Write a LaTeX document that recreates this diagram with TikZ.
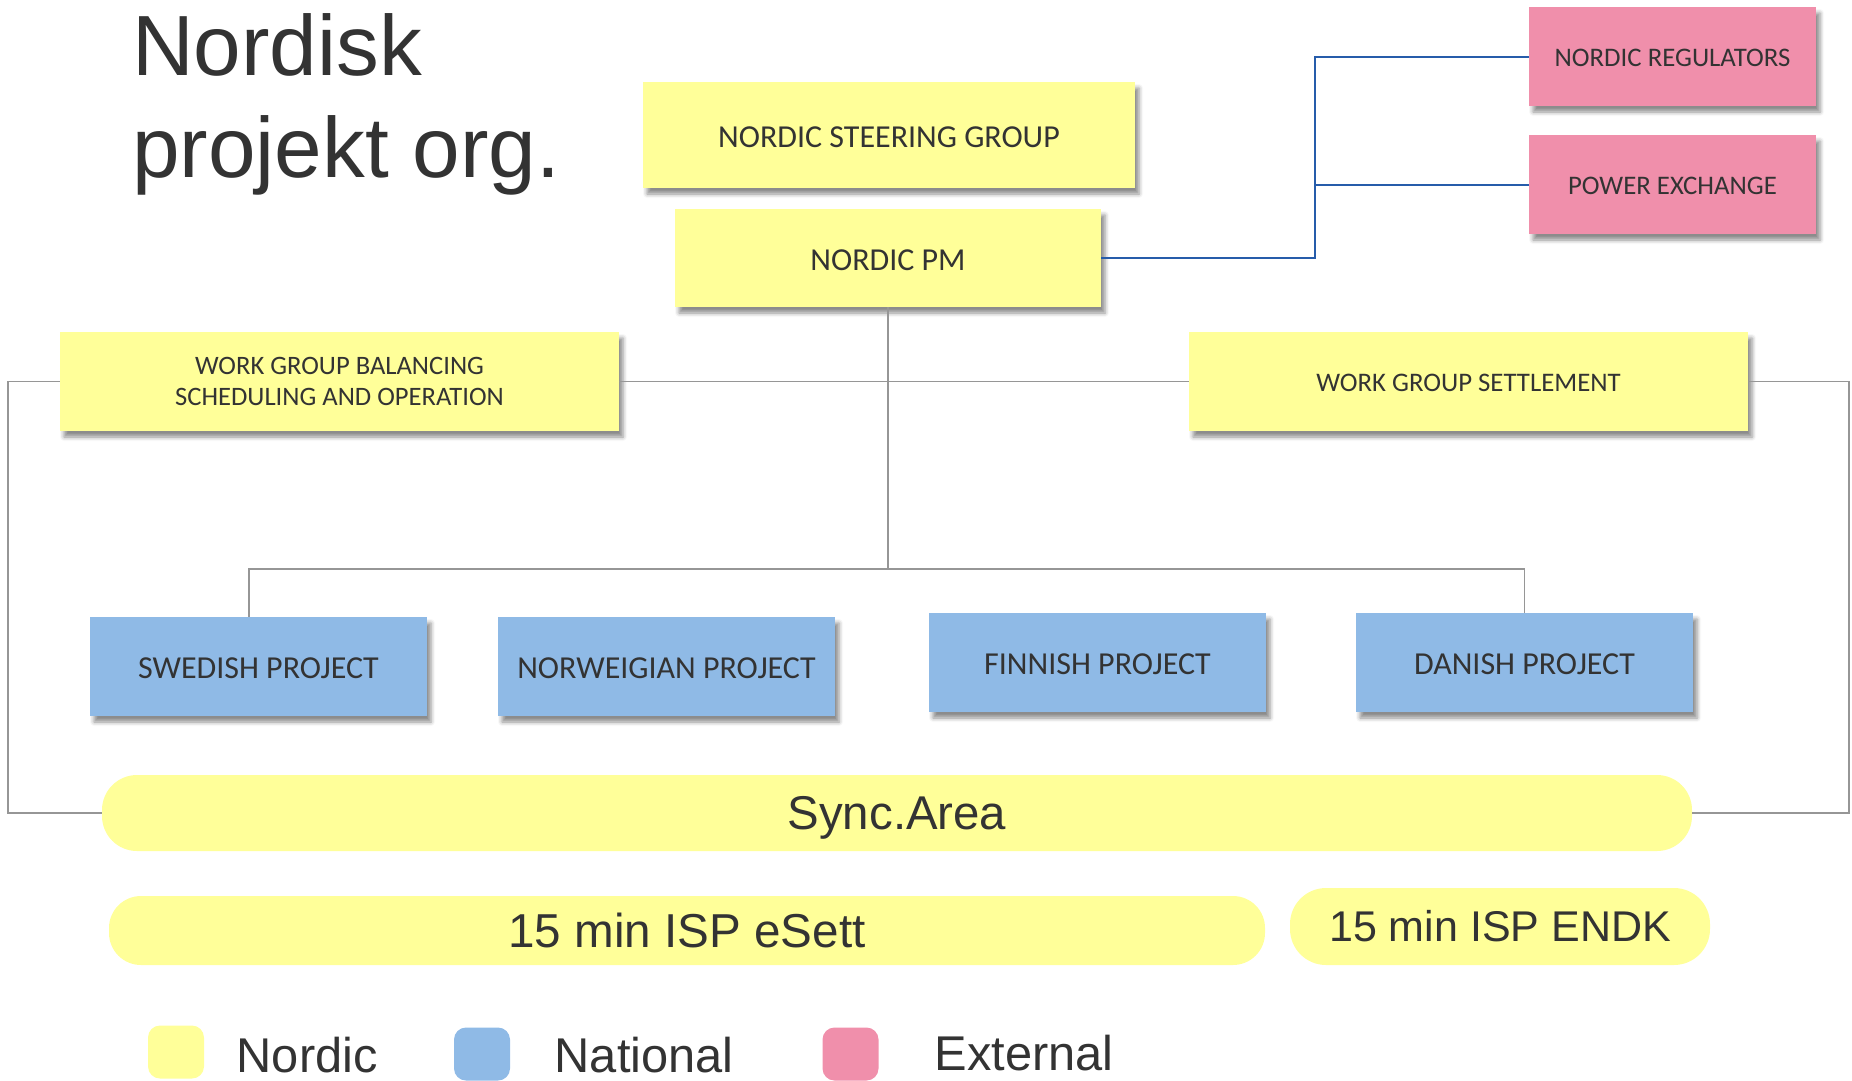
\documentclass[tikz,border=0pt]{standalone}
\usepackage{fontspec}
\setmainfont{Liberation Sans}
\newfontfamily\carlitofont{Carlito}
\usetikzlibrary{shadows.blur}
\definecolor{nyellow}{RGB}{255,255,153}
\definecolor{nblue}{RGB}{143,186,230}
\definecolor{npink}{RGB}{240,143,171}
\definecolor{txt}{RGB}{51,51,51}
\definecolor{gline}{RGB}{150,150,150}
\definecolor{bline}{RGB}{38,92,170}
\begin{document}
\begin{tikzpicture}[x=1pt,y=-1pt,
  box/.style={rectangle, inner sep=0pt, text=txt, align=center,
    blur shadow={shadow xshift=4pt, shadow yshift=-6pt, shadow blur radius=4pt, shadow opacity=45}},
  big/.style={font=\carlitofont\fontsize{32}{38}\selectfont, text height=24.5pt, text depth=0pt},
  mid/.style={font=\carlitofont\fontsize{26.8}{31}\selectfont, text height=19.5pt, text depth=0pt},
  two/.style={font=\carlitofont\fontsize{26.6}{31}\selectfont},
  proj/.style={box, big, fill=nblue, minimum width=337pt, minimum height=99pt},
  pill/.style={rectangle, inner sep=0pt, fill=nyellow, text=txt},
  legsq/.style={rectangle, inner sep=0pt, rounded corners=12pt, minimum width=56pt, minimum height=53pt},
  legtxt/.style={inner sep=0pt, anchor=base west, text=txt, font=\fontsize{48.8}{56}\selectfont},
  gl/.style={draw=gline, line width=1.6pt},
  bl/.style={draw=bline, line width=2pt}
]
\useasboundingbox (0,0) rectangle (1852,1080);
% title
\node[inner sep=0pt, anchor=base west, text=txt, font=\fontsize{85.5}{102}\selectfont] (title1) at (132,75) {Nordisk};
\node[inner sep=0pt, anchor=base west, text=txt, font=\fontsize{85.5}{102}\selectfont] (title2) at (132,177) {projekt org.};
% yellow boxes
\node[box, big, fill=nyellow, minimum width=492pt, minimum height=106pt] (nsg) at (889,135) {NORDIC STEERING GROUP};
\node[box, big, fill=nyellow, minimum width=426pt, minimum height=98pt] (pm) at (888,258) {NORDIC PM};
\node[box, two, fill=nyellow, minimum width=559pt, minimum height=99pt] (wgb) at (339.5,381.5) {WORK GROUP BALANCING\\SCHEDULING AND OPERATION};
\node[box, mid, fill=nyellow, minimum width=559pt, minimum height=99pt] (wgs) at (1468.5,381.5) {WORK GROUP SETTLEMENT};
% pink boxes
\node[box, mid, fill=npink, minimum width=287pt, minimum height=99pt] (reg) at (1672.5,56.5) {NORDIC REGULATORS};
\node[box, mid, fill=npink, minimum width=287pt, minimum height=99pt] (pex) at (1672.5,184.5) {POWER EXCHANGE};
% blue boxes
\node[proj] (swe) at (258.5,666.5) {SWEDISH PROJECT};
\node[proj] (nor) at (666.5,666.5) {NORWEIGIAN PROJECT};
\node[proj] (fin) at (1097.5,662.5) {FINNISH PROJECT};
\node[proj] (dan) at (1524.5,662.5) {DANISH PROJECT};
% pills
\node[pill, rounded corners=35pt, minimum width=1590pt, minimum height=76pt, font=\fontsize{47.4}{56}\selectfont, text height=33.6pt, text depth=0pt] (sync) at (897,813) {Sync.Area};
\node[pill, rounded corners=32pt, minimum width=1156pt, minimum height=69pt, font=\fontsize{47.6}{56}\selectfont, text height=33pt, text depth=0pt] (esett) at (687,930.5) {15 min ISP eSett};
\node[pill, rounded corners=36pt, minimum width=420pt, minimum height=77pt, font=\fontsize{43}{52}\selectfont, text height=30.8pt, text depth=0pt] (endk) at (1500,926.5) {15 min ISP ENDK};
% legend
\node[legsq, fill=nyellow] (lny) at (176,1052) {};
\node[legsq, fill=nblue] (lnb) at (482,1054) {};
\node[legsq, fill=npink] (lnp) at (850.5,1054) {};
\node[legtxt] (tny) at (236.5,1072) {Nordic};
\node[legtxt] (tnb) at (554.5,1072) {National};
\node[legtxt] (tnp) at (934.5,1070) {External};
% helper coordinates
\coordinate (lx) at (8,0);
\coordinate (rx) at (1849,0);
\coordinate (busy) at (0,569);
\coordinate (bx) at (1315,0);
% gray connectors
\draw[gl] (wgb.east) -- (wgs.west);
\draw[gl] (wgb.west) -- (wgb.west -| lx) |- (sync.west);
\draw[gl] (wgs.east) -- (wgs.east -| rx) |- (sync.east);
\draw[gl] (pm.south) -- (pm.south |- busy);
\draw[gl] ([xshift=-9.5pt]swe.north) |- (dan.north |- busy) -- (dan.north);
% blue connectors
\draw[bl] (pm.east) -| (bx |- reg.west) -- (reg.west);
\draw[bl] (bx |- pex.west) -- (pex.west);
\end{tikzpicture}
\end{document}
